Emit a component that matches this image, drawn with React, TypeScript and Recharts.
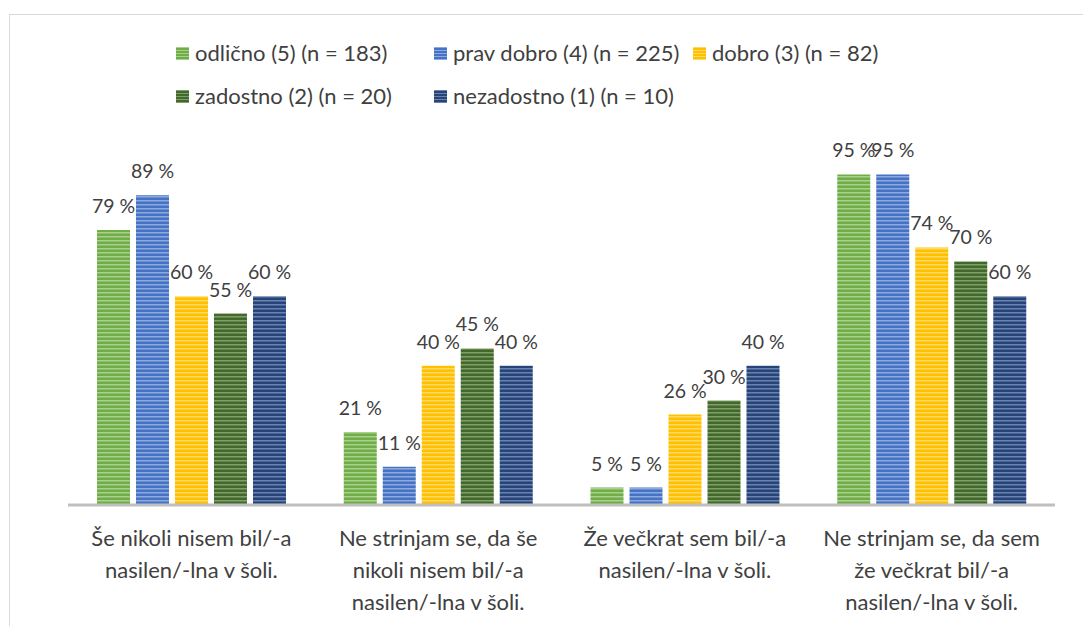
import React from "react";
import { Bar, BarChart, LabelList, XAxis, YAxis } from "recharts";

const categoryLines = [
  ["Še nikoli nisem bil/-a", "nasilen/-lna v šoli."],
  ["Ne strinjam se, da še", "nikoli nisem bil/-a", "nasilen/-lna v šoli."],
  ["Že večkrat sem bil/-a", "nasilen/-lna v šoli."],
  ["Ne strinjam se, da sem", "že večkrat bil/-a", "nasilen/-lna v šoli."],
];

const odlicno = [79, 21, 5, 95];
const pravDobro = [89, 11, 5, 95];
const dobro = [60, 40, 26, 74];
const zadostno = [55, 45, 30, 70];
const nezadostno = [60, 40, 40, 60];

const seriesNames = [
  "odlično (5) (n = 183)",
  "prav dobro (4) (n = 225)",
  "dobro (3) (n = 82)",
  "zadostno (2) (n = 20)",
  "nezadostno (1) (n = 10)",
];

const SERIES = [
  { key: "s5", name: seriesNames[0], base: "#70ad47", light: "#a9d18e" },
  { key: "s4", name: seriesNames[1], base: "#4472c4", light: "#8faadc" },
  { key: "s3", name: seriesNames[2], base: "#ffc000", light: "#ffd966" },
  { key: "s2", name: seriesNames[3], base: "#43682b", light: "#7f9f6a" },
  { key: "s1", name: seriesNames[4], base: "#264478", light: "#6a82b0" },
];

const data = categoryLines.map((lines, i) => ({
  name: lines.join(" "),
  s5: odlicno[i],
  s4: pravDobro[i],
  s3: dobro[i],
  s2: zadostno[i],
  s1: nezadostno[i],
}));

const FONT = "Lato, 'Open Sans', sans-serif";
const TEXT_COLOR = "#404040";

function StripeDefs() {
  return (
    <defs>
      {SERIES.map((s) => (
        <pattern
          key={s.key}
          id={`stripe-${s.key}`}
          width="4"
          height="4"
          patternUnits="userSpaceOnUse"
        >
          <rect width="4" height="4" fill={s.base} />
          <rect width="4" height="1.5" fill={s.light} />
        </pattern>
      ))}
    </defs>
  );
}

function CategoryTick({ x, y, payload }: any) {
  const lines = categoryLines[payload.index] || [payload.value];
  return (
    <text
      x={x}
      y={y}
      textAnchor="middle"
      fill={TEXT_COLOR}
      fontSize={22}
      fontFamily={FONT}
    >
      {lines.map((l: string, i: number) => (
        <tspan key={i} x={x} dy={i === 0 ? 33 : 32}>
          {l}
        </tspan>
      ))}
    </text>
  );
}

function ValueLabel({ x, y, width, value }: any) {
  return (
    <text
      x={x + width / 2}
      y={y - 17}
      textAnchor="middle"
      fill={TEXT_COLOR}
      fontSize={19.5}
      fontFamily={FONT}
    >
      {`${value} %`}
    </text>
  );
}

const legendCols = [176, 434, 693];

function LegendSwatch({ s }: { s: (typeof SERIES)[number] }) {
  return (
    <svg width={13} height={13} style={{ marginRight: 6, flex: "none" }}>
      <defs>
        <pattern id={`lg-${s.key}`} width="4" height="3" patternUnits="userSpaceOnUse">
          <rect width="4" height="3" fill={s.base} />
          <rect width="4" height="1" fill={s.light} />
        </pattern>
      </defs>
      <rect width={13} height={13} fill={`url(#lg-${s.key})`} />
    </svg>
  );
}

function LegendBlock() {
  const rows = [
    [SERIES[0], SERIES[1], SERIES[2]],
    [SERIES[3], SERIES[4]],
  ];
  return (
    <div style={{ position: "absolute", left: 0, top: 0 }}>
      {rows.map((row, r) =>
        row.map((s, c) => (
          <div
            key={s.key}
            style={{
              position: "absolute",
              left: legendCols[c],
              top: r === 0 ? 39 : 82,
              display: "flex",
              alignItems: "center",
              whiteSpace: "nowrap",
              fontFamily: FONT,
              fontSize: 22,
              color: TEXT_COLOR,
              lineHeight: "28px",
            }}
          >
            <LegendSwatch s={s} />
            {s.name}
          </div>
        ))
      )}
    </div>
  );
}

export default function App() {
  return (
    <div
      style={{
        position: "absolute",
        left: 0,
        top: 0,
        width: 1083,
        height: 626,
        overflow: "hidden",
        background: "#fff",
      }}
    >
      <div
        style={{
          position: "absolute",
          left: 9,
          top: 14,
          width: 1090,
          height: 660,
          border: "1px solid #d9d9d9",
          boxSizing: "border-box",
        }}
      />
      <LegendBlock />
      <div style={{ position: "absolute", left: 0, top: 0 }}>
        <BarChart
          width={1083}
          height={626}
          data={data}
          margin={{ top: 157, right: 28, left: 68, bottom: 0 }}
          barSize={33}
          barGap={6}
        >
          <StripeDefs />
          <XAxis
            dataKey="name"
            axisLine={{ stroke: "#bfbfbf", strokeWidth: 3 }}
            tickLine={false}
            tick={<CategoryTick />}
            interval={0}
            height={121}
          />
          <YAxis hide domain={[0, 100]} width={0} />
          {SERIES.map((s) => (
            <Bar
              key={s.key}
              dataKey={s.key}
              name={s.name}
              fill={`url(#stripe-${s.key})`}
              isAnimationActive={false}
            >
              <LabelList dataKey={s.key} content={<ValueLabel />} />
            </Bar>
          ))}
        </BarChart>
      </div>
    </div>
  );
}
